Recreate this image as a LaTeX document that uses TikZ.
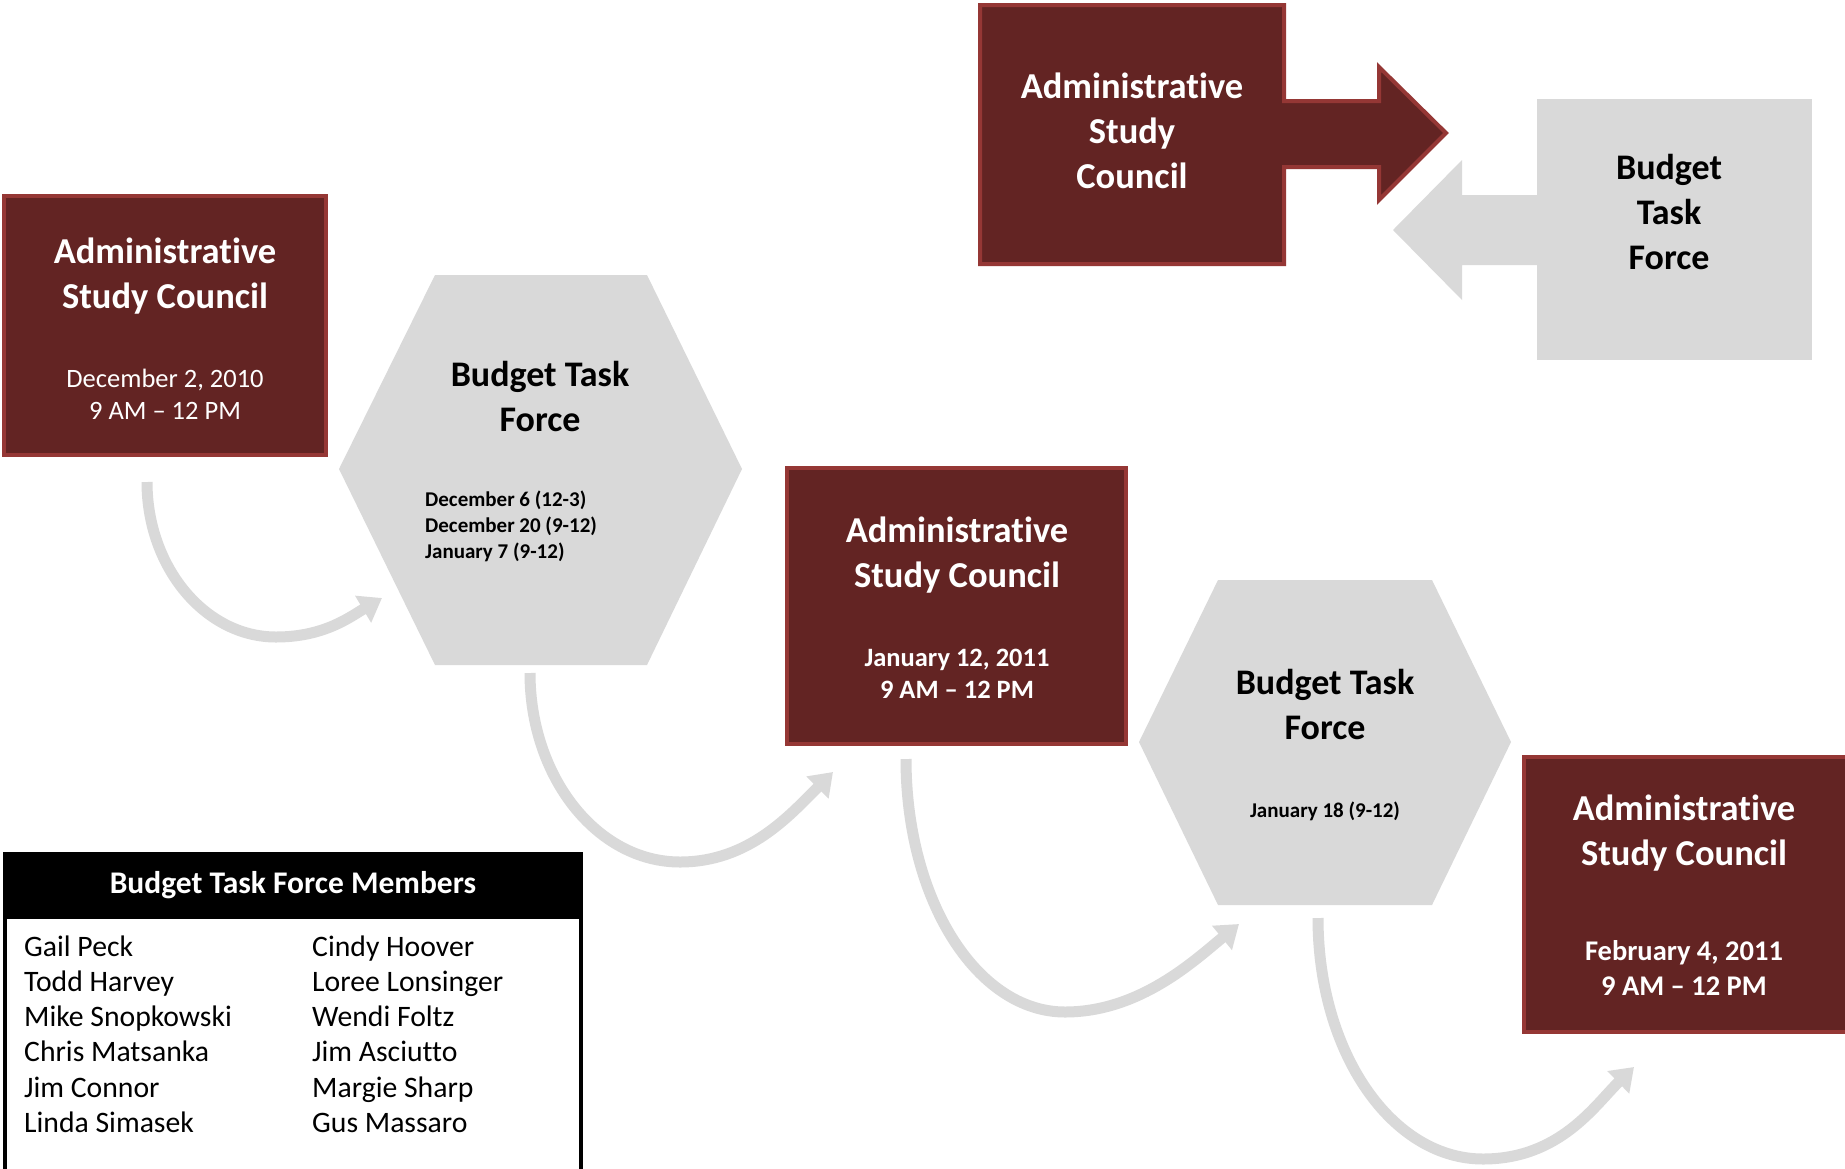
\documentclass[tikz,border=0pt]{standalone}
\usepackage{fontspec}
\setmainfont{Carlito}[Ligatures={TeX,NoCommon}]
\usetikzlibrary{arrows.meta}
\definecolor{ascred}{RGB}{99,36,35}
\definecolor{ascedge}{RGB}{149,55,53}
\definecolor{btfgray}{RGB}{217,217,217}
\newcommand\myfs[2]{\fontsize{#1}{#2}\selectfont}
\tikzset{
  ascbox/.style={fill=ascred, draw=ascedge, line width=4pt, inner sep=0pt},
  btfshape/.style={fill=btfgray},
  flow/.style={draw=btfgray, line width=11pt, -{Triangle[width=30pt,length=22pt]}},
  asctitle/.style={text=white, font=\myfs{36.5}{44.5}\bfseries, align=center, inner sep=0pt},
  ascdate/.style={text=white, font=\myfs{26.5}{32}, align=center, inner sep=0pt},
  ascdateb/.style={text=white, font=\myfs{26.5}{32}\bfseries, align=center, inner sep=0pt},
  btftitle/.style={text=black, font=\myfs{36}{45}\bfseries, align=center, inner sep=0pt},
  btfdate/.style={text=black, font=\myfs{21}{26}\bfseries, align=left, inner sep=0pt},
  member/.style={text=black, font=\myfs{29.7}{35.2}, align=left, anchor=west, inner sep=0pt},
  memhead/.style={text=white, font=\myfs{31.5}{36}\bfseries, inner sep=0pt}
}
\begin{document}
\begin{tikzpicture}[x=1pt,y=-1pt]
\clip (0,0) rectangle (1845,1168);
\fill[white] (0,0) rectangle (1845,1168);

% ---- top legend: callout pair ----
\draw[ascbox] (980,5) -- (1284,5) -- (1284,101) -- (1379,101) -- (1379,67) -- (1446,133)
  -- (1379,200) -- (1379,167) -- (1284,167) -- (1284,264) -- (980,264) -- cycle;
\node[asctitle, font=\myfs{36.5}{44.7}\bfseries] (topasc) at (1132,131) {Administrative\\Study\\Council};
\fill[btfshape] (1537,99) rectangle (1812,360);
\fill[btfshape] (1537,195) -- (1462,195) -- (1462,160) -- (1393,230) -- (1462,300) -- (1462,265) -- (1537,265) -- cycle;
\node[btftitle] (topbtf) at (1669,212) {Budget\\Task\\Force};

% ---- ASC 1 ----
\node[ascbox, minimum width=322pt, minimum height=259pt] (asc1) at (165,325.5) {};
\node[asctitle] (asc1t) at (165,276) {Administrative\\Study Council};
\node[ascdate] (asc1d) at (165,394) {December 2, 2010\\9 AM – 12 PM};

% ---- BTF hexagon 1 ----
\fill[btfshape] (435,275) -- (647,275) -- (742,469) -- (647,665) -- (435,665) -- (339,469) -- cycle;
\node[btftitle] (btf1t) at (540,396) {Budget Task\\Force};
\node[btfdate, anchor=west] (btf1d) at (425,526) {December 6 (12-3)\\December 20 (9-12)\\January 7 (9-12)};

% ---- ASC 2 ----
\node[ascbox, minimum width=339pt, minimum height=276pt] (asc2) at (956.5,606) {};
\node[asctitle] (asc2t) at (957,555) {Administrative\\Study Council};
\node[ascdateb] (asc2d) at (957,674) {January 12, 2011\\9 AM – 12 PM};

% ---- BTF hexagon 2 ----
\fill[btfshape] (1218,580) -- (1432,580) -- (1511,742) -- (1432,905) -- (1218,905) -- (1139,742) -- cycle;
\node[btftitle] (btf2t) at (1325,704) {Budget Task\\Force};
\node[btfdate] (btf2d) at (1325,811) {January 18 (9-12)};

% ---- ASC 3 ----
\node[ascbox, minimum width=324pt, minimum height=275pt] (asc3) at (1686,894.5) {};
\node[asctitle] (asc3t) at (1684,833) {Administrative\\Study Council};
\node[ascdateb, font=\myfs{28.5}{35}\bfseries] (asc3d) at (1684,968) {February 4, 2011\\9 AM – 12 PM};

% ---- curved connectors ----
\coordinate (c1s) at (147,482);  \coordinate (c1b) at (276,637);  \coordinate (c1e) at (382,598);
\coordinate (c2s) at (530,673);  \coordinate (c2b) at (680,862);  \coordinate (c2e) at (833,772);
\coordinate (c3s) at (906,759);  \coordinate (c3b) at (1065,1012); \coordinate (c3e) at (1239,924);
\coordinate (c4s) at (1318,918); \coordinate (c4b) at (1483,1159); \coordinate (c4e) at (1634,1067);

\draw[flow] (c1s) .. controls (147,567) and (205,637) .. (c1b) .. controls (324,637) and (350,617) .. (c1e);
\draw[flow] (c2s) .. controls (530,777) and (597,862) .. (c2b) .. controls (749,862) and (790,815) .. (c2e);
\draw[flow] (c3s) .. controls (906,900) and (977,1012) .. (c3b) .. controls (1140,1012) and (1195,960) .. (c3e);
\draw[flow] (c4s) .. controls (1318,1053) and (1392,1159) .. (c4b) .. controls (1560,1159) and (1595,1105) .. (c4e);

% ---- members legend ----
\fill[black] (5,854) rectangle (581,919);
\draw[line width=4pt] (5,1180) -- (5,854) -- (581,854) -- (581,1180);
\node[memhead] (mhead) at (293,885) {Budget Task Force Members};
\node[member] (mcol1) at (24,1034) {Gail Peck\\Todd Harvey\\Mike Snopkowski\\Chris Matsanka\\Jim Connor\\Linda Simasek};
\node[member] (mcol2) at (312,1034) {Cindy Hoover\\Loree Lonsinger\\Wendi Foltz\\Jim Asciutto\\Margie Sharp\\Gus Massaro};
\end{tikzpicture}
\end{document}
